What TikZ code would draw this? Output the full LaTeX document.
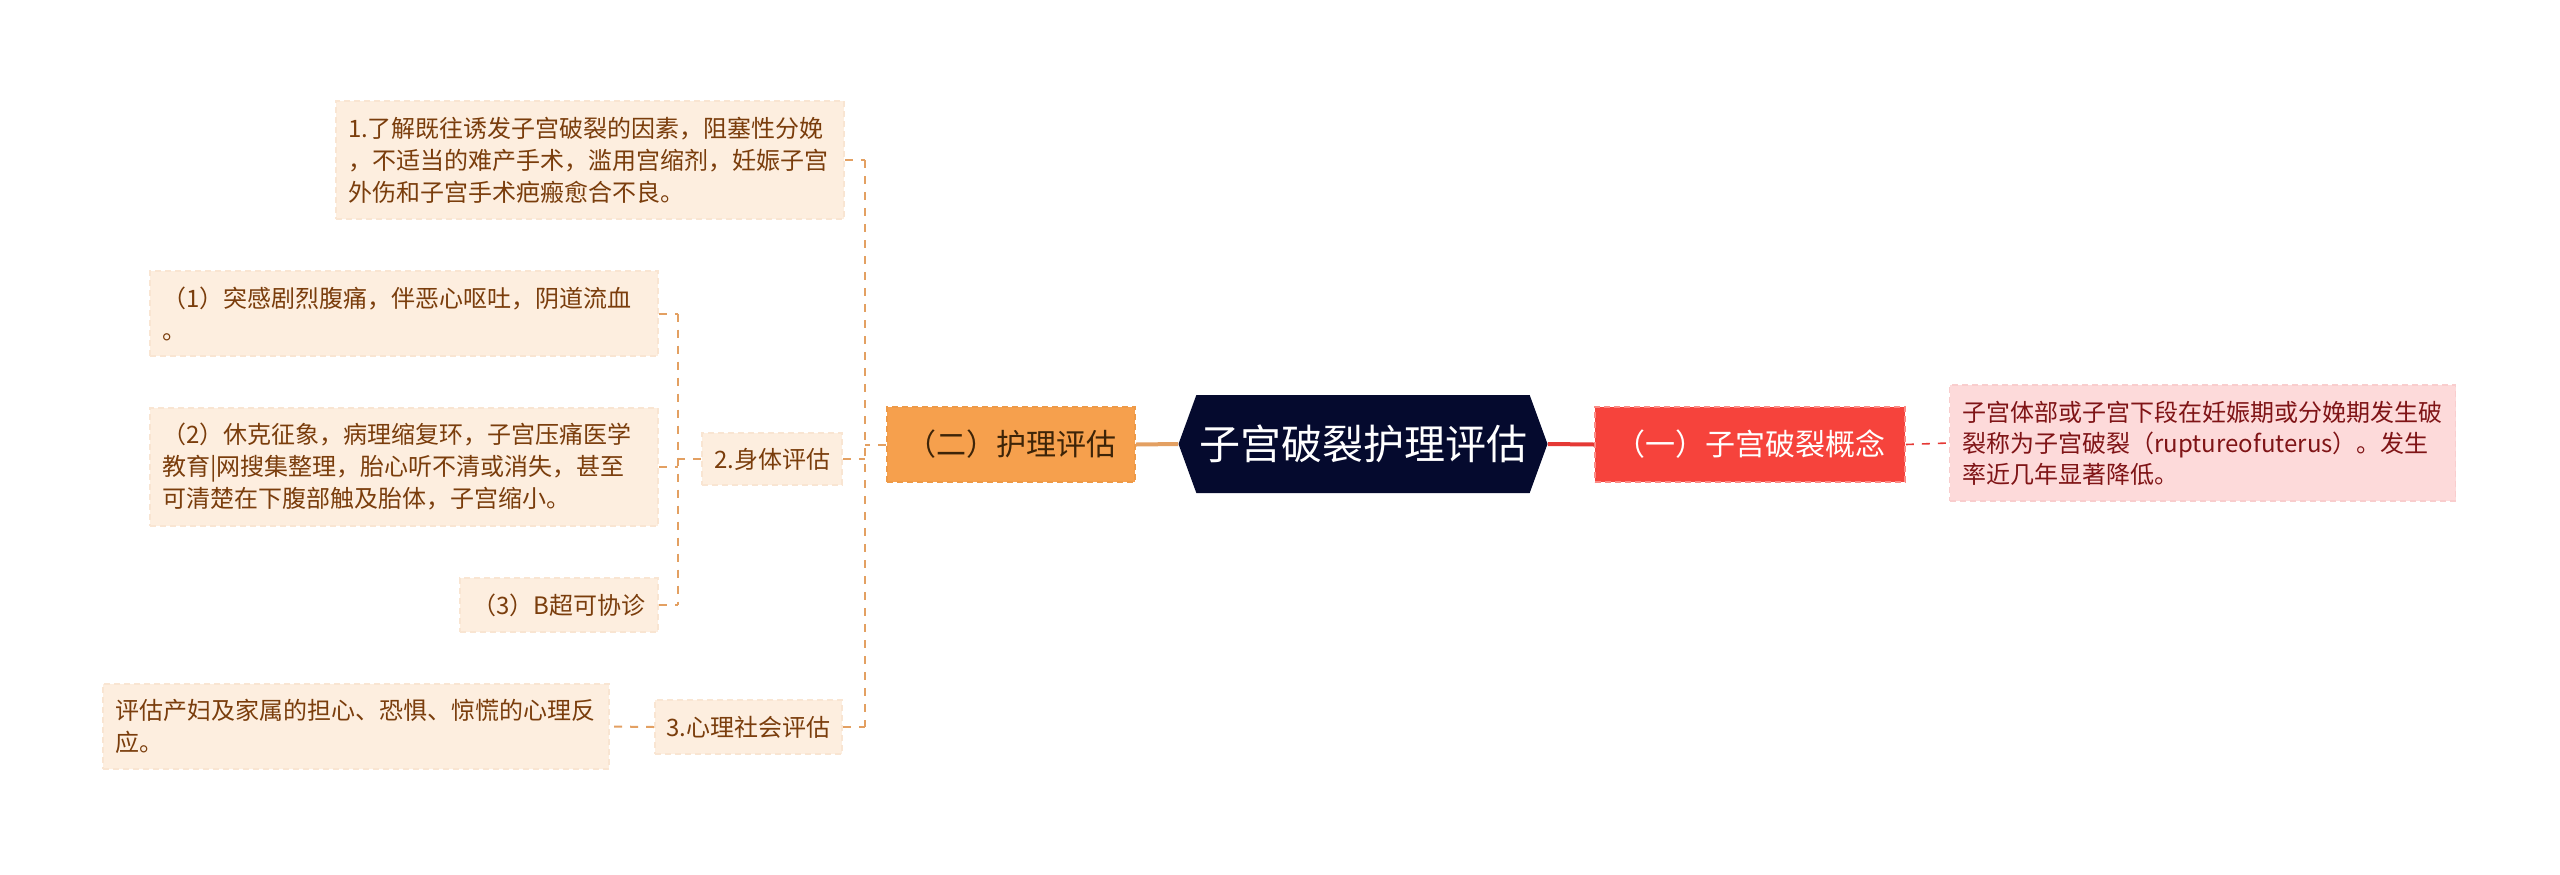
\documentclass[tikz,border=0pt]{standalone}
\usepackage{fontspec}
\setmainfont{Noto Sans CJK SC}
\usetikzlibrary{shapes.symbols}
\definecolor{rootfill}{HTML}{050A2E}
\definecolor{lightfill}{HTML}{FDEEDF}
\definecolor{lightedge}{HTML}{F9E5D2}
\definecolor{browntext}{HTML}{7A3D0C}
\definecolor{orangefill}{HTML}{F6A04D}
\definecolor{orangeedge}{HTML}{EE9A48}
\definecolor{orangetext}{HTML}{3D2408}
\definecolor{redfill}{HTML}{F6433C}
\definecolor{rededge}{HTML}{FB8A84}
\definecolor{pinkfill}{HTML}{FDDADA}
\definecolor{pinkedge}{HTML}{F9CDCD}
\definecolor{pinktext}{HTML}{7F1416}
\definecolor{oline}{HTML}{E3A062}
\definecolor{rline}{HTML}{E53935}
\tikzset{
  rootbox/.style={shape=signal, signal to=west and east, signal pointer angle=140,
    fill=rootfill, text=white, font=\fontsize{20.5}{24}\selectfont,
    minimum width=184.5pt, minimum height=49pt, inner sep=0pt},
  redbox/.style={draw=rededge, dashed, dash pattern=on 3pt off 2pt, line width=0.8pt,
    fill=redfill, text=white, font=\fontsize{15}{18}\selectfont,
    minimum width=155pt, minimum height=37.5pt, inner sep=0pt},
  orangebox/.style={draw=orangeedge, dashed, dash pattern=on 3pt off 2pt, line width=0.8pt,
    fill=orangefill, text=orangetext, font=\fontsize{15}{18}\selectfont,
    minimum width=124pt, minimum height=37.5pt, inner sep=0pt},
  pinkbox/.style={draw=pinkedge, dashed, dash pattern=on 3pt off 2pt, line width=0.8pt,
    fill=pinkfill, text=pinktext, font=\fontsize{12}{15.5}\selectfont,
    align=left, inner xsep=6.5pt, inner ysep=0pt},
  leaf/.style={draw=lightedge, dashed, dash pattern=on 3pt off 2pt, line width=0.8pt,
    fill=lightfill, text=browntext, font=\fontsize{12}{16}\selectfont,
    align=left, inner xsep=6pt, inner ysep=0pt},
  small/.style={draw=lightedge, dashed, dash pattern=on 3pt off 2pt, line width=0.8pt,
    fill=lightfill, text=browntext, font=\fontsize{12}{16}\selectfont,
    inner sep=0pt},
  oconn/.style={draw=oline, line width=1pt, dash pattern=on 4pt off 4pt},
  rconn/.style={draw=rline, line width=0.8pt, dash pattern=on 4pt off 4pt},
}
\begin{document}
\begin{tikzpicture}[x=0.5pt,y=-0.5pt]
\useasboundingbox (0,0) rectangle (2560,874);
% main nodes
\node[rootbox] (root) at (1363,444) {子宫破裂护理评估};
\node[redbox] (red) at (1750,444.5) {（一）子宫破裂概念};
\node[pinkbox, text width=240pt, minimum height=58pt] (pink) at (2202.5,443)
  {子宫体部或子宫下段在妊娠期或分娩期发生破\\裂称为子宫破裂（ruptureofuterus）。发生\\率近几年显著降低。};
\node[orangebox] (orange) at (1011,444.5) {（二）护理评估};
% level 2
\node[leaf, text width=242pt, minimum height=59pt] (item1) at (590,160)
  {1.了解既往诱发子宫破裂的因素，阻塞性分娩\\，不适当的难产手术，滥用宫缩剂，妊娠子宫\\外伤和子宫手术疤瘢愈合不良。};
\node[small, minimum width=70pt, minimum height=26pt] (body) at (772,459) {2.身体评估};
\node[small, minimum width=93.5pt, minimum height=27pt] (psy) at (748.5,727) {3.心理社会评估};
% level 3
\node[leaf, text width=242pt, minimum height=42.5pt] (s1) at (404,313.5)
  {（1）突感剧烈腹痛，伴恶心呕吐，阴道流血\\。};
\node[leaf, text width=242pt, minimum height=59pt] (s2) at (404,467)
  {（2）休克征象，病理缩复环，子宫压痛医学\\教育|网搜集整理，胎心听不清或消失，甚至\\可清楚在下腹部触及胎体，子宫缩小。};
\node[small, minimum width=99pt, minimum height=27pt] (s3) at (559,605) {（3）B超可协诊};
\node[leaf, text width=241pt, minimum height=42.5pt] (pa) at (356,726.5)
  {评估产妇及家属的担心、恐惧、惊慌的心理反\\应。};
% trunk coordinates
\coordinate (t1) at (865,444);
\coordinate (t2) at (678,459);
% connectors right
\draw[draw=rline, line width=2pt] (root.east) -- (red.west);
\draw[rconn] (red.east) -- (pink.west);
% connectors left
\draw[draw=oline, line width=2pt] (root.west) -- (orange.east);
\draw[oconn] (orange.west) -- (orange.west -| t1);
\draw[oconn] (item1.east -| t1) -- (psy.east -| t1);
\draw[oconn] (item1.east) -- (item1.east -| t1);
\draw[oconn] (body.east) -- (body.east -| t1);
\draw[oconn] (psy.east) -- (psy.east -| t1);
\draw[oconn] (body.west) -- (body.west -| t2);
\draw[oconn] (s1.east -| t2) -- (s3.east -| t2);
\draw[oconn] (s1.east) -- (s1.east -| t2);
\draw[oconn] (s2.east) -- (s2.east -| t2);
\draw[oconn] (s3.east) -- (s3.east -| t2);
\draw[oconn] (psy.west) -- (pa.east);
\end{tikzpicture}
\end{document}
